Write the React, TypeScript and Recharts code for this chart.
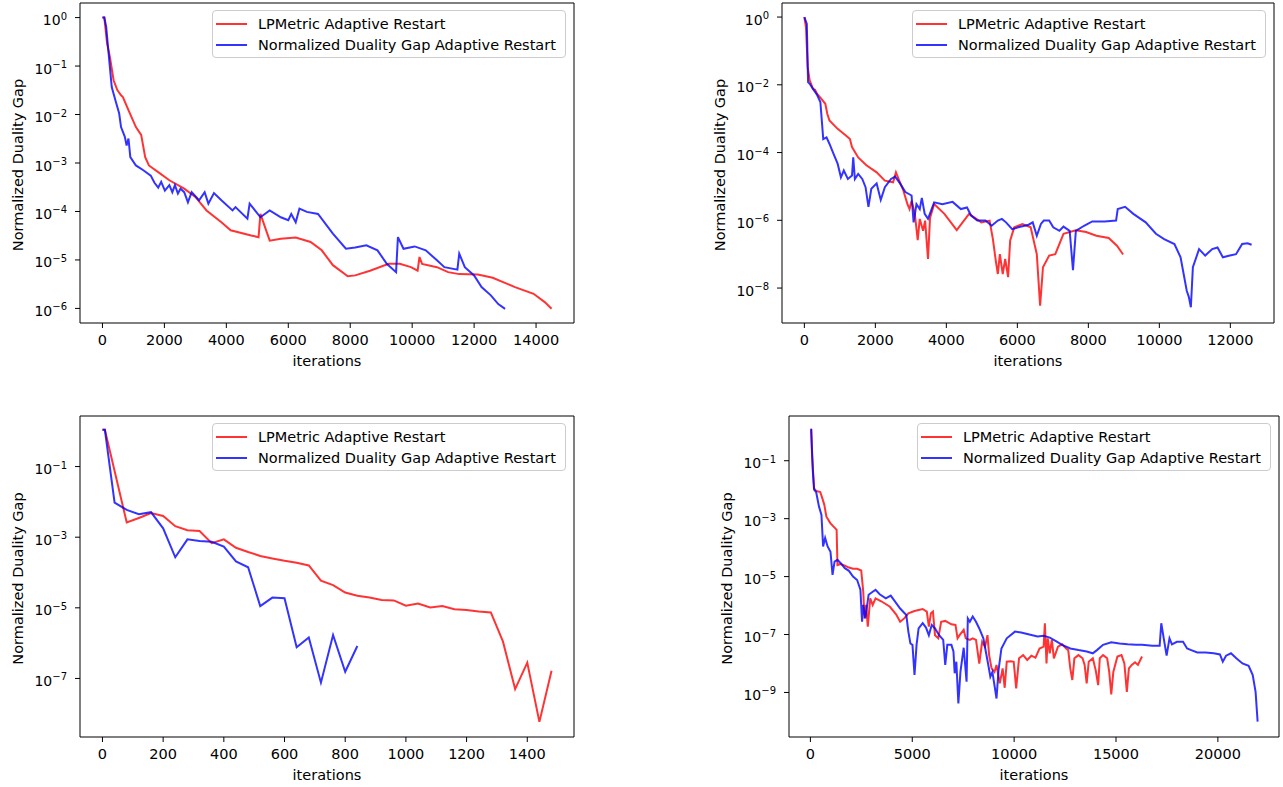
import { LineChart, Line, XAxis, YAxis, Legend } from "recharts";

const FONT = "DejaVu Sans";
const RED_NAME = "LPMetric Adaptive Restart";
const BLUE_NAME = "Normalized Duality Gap Adaptive Restart";

// ---- panel 1 (top left) ----
const p1RedIter = [0, 60, 150, 240, 360, 480, 600, 660, 840, 1080, 1250, 1380, 1500, 1800, 2160, 2640, 3000, 3360, 3840, 4140, 4800, 5040, 5100, 5400, 5760, 6240, 6720, 7080, 7440, 7920, 8160, 8640, 9240, 9600, 9960, 10176, 10236, 10320, 10800, 11160, 11520, 12120, 12600, 13320, 13920, 14280, 14500];
const p1RedGap = [1, 1, 2.9e-1, 1.55e-1, 5.1e-2, 3.2e-2, 2.5e-2, 2.3e-2, 1.23e-2, 5.5e-3, 3.8e-3, 1.32e-3, 8.9e-4, 6.5e-4, 4.4e-4, 2.95e-4, 2.0e-4, 1.05e-4, 6.0e-5, 4.1e-5, 3.2e-5, 2.95e-5, 8.9e-5, 2.5e-5, 2.75e-5, 2.9e-5, 2.35e-5, 1.58e-5, 7.8e-6, 4.6e-6, 4.8e-6, 6.0e-6, 8.3e-6, 8.3e-6, 7.1e-6, 6.0e-6, 1.15e-5, 8.3e-6, 7.1e-6, 5.6e-6, 5.1e-6, 5.0e-6, 4.3e-6, 2.75e-6, 2.0e-6, 1.35e-6, 9.8e-7];
const p1BlueIter = [0, 60, 120, 180, 300, 420, 540, 600, 720, 780, 840, 900, 1080, 1320, 1560, 1680, 1800, 1896, 2016, 2160, 2256, 2340, 2436, 2520, 2640, 2760, 2880, 3120, 3300, 3420, 3600, 3840, 4200, 4296, 4680, 4752, 5100, 5400, 5760, 6000, 6096, 6240, 6360, 6600, 6960, 7440, 7860, 8160, 8520, 8880, 9180, 9480, 9540, 9720, 10080, 10440, 10800, 11040, 11460, 11520, 11700, 12000, 12240, 12540, 12780, 13000];
const p1BlueGap = [1, 1, 6.5e-1, 2.45e-1, 3.7e-2, 1.95e-2, 1.05e-2, 5.5e-3, 3.5e-3, 2.3e-3, 3.2e-3, 1.32e-3, 8.9e-4, 7.1e-4, 5.5e-4, 3.9e-4, 3.1e-4, 4.1e-4, 2.7e-4, 3.5e-4, 2.5e-4, 3.5e-4, 2.35e-4, 2.95e-4, 2.5e-4, 1.55e-4, 2.5e-4, 1.7e-4, 2.5e-4, 1.45e-4, 2.4e-4, 1.7e-4, 1.05e-4, 1.23e-4, 7.1e-5, 1.45e-4, 7.6e-5, 1.05e-4, 7.6e-5, 6.6e-5, 8.9e-5, 6.0e-5, 1.15e-4, 9.8e-5, 8.9e-5, 3.5e-5, 1.7e-5, 1.8e-5, 2.0e-5, 1.58e-5, 8.3e-6, 5.6e-6, 2.95e-5, 1.7e-5, 1.9e-5, 1.58e-5, 9.8e-6, 7.1e-6, 6.3e-6, 1.35e-5, 7.1e-6, 4.8e-6, 2.75e-6, 1.86e-6, 1.23e-6, 9.8e-7];
const p1XTicks = [0, 2000, 4000, 6000, 8000, 10000, 12000, 14000];
const p1YTicks = [1, 1e-1, 1e-2, 1e-3, 1e-4, 1e-5, 1e-6];

// ---- panel 2 (top right) ----
const p2RedIter = [0, 46, 93, 150, 243, 300, 360, 474, 590, 648, 706, 937, 1169, 1284, 1342, 1516, 1747, 2036, 2268, 2499, 2580, 2673, 2788, 2904, 2962, 3020, 3112, 3193, 3251, 3344, 3402, 3483, 3540, 3656, 3945, 4292, 4640, 4987, 5218, 5311, 5392, 5450, 5507, 5588, 5658, 5739, 5797, 5912, 6143, 6375, 6548, 6641, 6722, 6896, 7069, 7300, 7648, 7937, 8226, 8573, 8805, 8979];
const p2RedGap = [1, 5.0e-1, 3.3e-2, 1.35e-2, 7.6e-3, 7.1e-3, 5.4e-3, 3.9e-3, 2.75e-3, 1.38e-3, 8.9e-4, 5.0e-4, 3.2e-4, 2.5e-4, 1.45e-4, 7.2e-5, 4.2e-5, 2.6e-5, 1.48e-5, 1.32e-5, 2.6e-5, 1.48e-5, 7.6e-6, 3.0e-6, 2.15e-6, 3.8e-6, 1.55e-6, 2.6e-7, 1.1e-6, 4.9e-7, 9.8e-7, 7.2e-8, 1.17e-6, 3.0e-6, 1.55e-6, 5.1e-7, 1.55e-6, 8.7e-7, 9.8e-7, 2.8e-7, 6.5e-8, 2.6e-8, 1.0e-7, 2.6e-8, 7.2e-8, 2.1e-8, 2.5e-7, 6.2e-7, 7.8e-7, 6.2e-7, 1.0e-7, 3.0e-9, 4.1e-8, 9.1e-8, 1.0e-7, 4.0e-7, 5.1e-7, 4.5e-7, 3.5e-7, 3.0e-7, 1.78e-7, 9.8e-8];
const p2BlueIter = [0, 69, 104, 150, 243, 360, 451, 532, 624, 706, 822, 937, 1030, 1111, 1226, 1342, 1377, 1423, 1516, 1631, 1724, 1805, 1886, 2036, 2152, 2268, 2441, 2557, 2695, 2846, 3020, 3077, 3158, 3251, 3309, 3390, 3483, 3656, 3887, 4176, 4408, 4582, 4697, 4871, 5102, 5276, 5450, 5565, 5681, 5854, 6028, 6317, 6433, 6548, 6664, 6745, 6896, 7011, 7185, 7300, 7474, 7567, 7648, 7879, 8110, 8457, 8781, 8828, 9036, 9268, 9615, 9904, 10135, 10425, 10598, 10772, 10830, 10888, 10945, 11119, 11292, 11489, 11639, 11790, 11986, 12160, 12333, 12484, 12600];
const p2BlueGap = [1, 6.3e-1, 1.2e-2, 1.07e-2, 7.6e-3, 5.0e-3, 3.1e-3, 2.5e-4, 2.8e-4, 1.82e-4, 9.1e-5, 4.7e-5, 1.86e-5, 2.95e-5, 1.66e-5, 2.1e-5, 7.2e-5, 1.66e-5, 2.35e-5, 1.66e-5, 9.5e-6, 2.5e-6, 8.5e-6, 1.23e-5, 4.0e-6, 9.5e-6, 1.66e-5, 1.95e-5, 1.23e-5, 6.8e-6, 5.4e-6, 8.7e-7, 3.0e-6, 2.15e-6, 4.6e-6, 1.55e-6, 1.1e-6, 3.4e-6, 3.0e-6, 3.5e-6, 2.15e-6, 2.4e-6, 1.38e-6, 9.8e-7, 9.8e-7, 6.9e-7, 9.8e-7, 1.1e-6, 8.7e-7, 5.5e-7, 6.2e-7, 7.4e-7, 8.7e-7, 3.5e-7, 7.8e-7, 9.8e-7, 9.8e-7, 6.2e-7, 4.9e-7, 6.5e-7, 4.9e-7, 3.4e-8, 4.9e-7, 6.9e-7, 9.3e-7, 9.3e-7, 9.8e-7, 2.15e-6, 2.5e-6, 1.55e-6, 8.7e-7, 4.0e-7, 2.8e-7, 2.0e-7, 8.1e-8, 8.3e-9, 5.5e-9, 2.7e-9, 4.1e-8, 1.41e-7, 9.1e-8, 1.41e-7, 1.58e-7, 8.1e-8, 9.1e-8, 1.0e-7, 2.0e-7, 2.1e-7, 1.9e-7];
const p2XTicks = [0, 2000, 4000, 6000, 8000, 10000, 12000];
const p2YTicks = [1, 1e-2, 1e-4, 1e-6, 1e-8];

// ---- panel 3 (bottom left) ----
const p3RedIter = [0, 8, 80, 120, 160, 200, 240, 280, 320, 360, 400, 440, 480, 520, 560, 600, 640, 680, 720, 760, 800, 840, 880, 920, 960, 1000, 1040, 1080, 1120, 1160, 1200, 1240, 1280, 1320, 1360, 1400, 1440, 1480];
const p3RedGap = [1.1, 1.1, 2.6e-3, 3.5e-3, 4.8e-3, 4.0e-3, 2.05e-3, 1.58e-3, 1.5e-3, 6.8e-4, 8.7e-4, 5.0e-4, 3.8e-4, 2.95e-4, 2.5e-4, 2.15e-4, 1.9e-4, 1.58e-4, 5.9e-5, 4.4e-5, 2.7e-5, 2.2e-5, 1.95e-5, 1.66e-5, 1.62e-5, 1.15e-5, 1.32e-5, 1.02e-5, 1.12e-5, 9.1e-6, 8.7e-6, 7.9e-6, 7.4e-6, 1.1e-6, 5.0e-8, 2.8e-7, 5.9e-9, 1.66e-7];
const p3BlueIter = [0, 8, 40, 80, 120, 160, 200, 240, 280, 320, 360, 400, 440, 480, 520, 560, 600, 640, 680, 720, 760, 800, 840];
const p3BlueGap = [1.1, 1.1, 9.5e-3, 5.9e-3, 4.5e-3, 5.1e-3, 1.78e-3, 2.7e-4, 8.7e-4, 7.8e-4, 7.4e-4, 5.4e-4, 2.05e-4, 1.41e-4, 1.12e-5, 1.95e-5, 1.86e-5, 7.6e-7, 1.45e-6, 7.6e-8, 1.7e-6, 1.55e-7, 8.3e-7];
const p3XTicks = [0, 200, 400, 600, 800, 1000, 1200, 1400];
const p3YTicks = [1e-1, 1e-3, 1e-5, 1e-7];

// ---- panel 4 (bottom right) ----
const p4RedIter = [0, 40, 80, 181, 282, 483, 583, 684, 785, 986, 1187, 1288, 1328, 1489, 1690, 1891, 2093, 2294, 2495, 2595, 2656, 2736, 2817, 2938, 3058, 3199, 3501, 3903, 4205, 4406, 4607, 4808, 5110, 5512, 5714, 5814, 5915, 6015, 6116, 6277, 6418, 6619, 6921, 7122, 7223, 7323, 7525, 7625, 7826, 7967, 8128, 8289, 8430, 8571, 8692, 8772, 8893, 9034, 9135, 9296, 9436, 9537, 9637, 9838, 9979, 10100, 10241, 10442, 10643, 10845, 11046, 11247, 11448, 11508, 11589, 11649, 11750, 11850, 11951, 12152, 12353, 12554, 12655, 12756, 12856, 12957, 13158, 13359, 13460, 13561, 13661, 13862, 14003, 14124, 14204, 14365, 14566, 14667, 14767, 14868, 15069, 15270, 15411, 15532, 15632, 15773, 15934, 16075, 16277];
const p4RedGap = [1.17, 1.17, 1.62e-1, 1.12e-2, 9.1e-3, 8.3e-3, 5.1e-3, 3.0e-3, 1.17e-3, 6.9e-4, 4.9e-4, 4.1e-4, 2.5e-5, 2.7e-5, 2.4e-5, 2.05e-5, 1.86e-5, 1.86e-5, 1.62e-5, 3.0e-6, 3.6e-7, 1.05e-6, 1.86e-7, 1.78e-6, 1.05e-6, 1.78e-6, 1.38e-6, 9.1e-7, 5.0e-7, 2.75e-7, 3.6e-7, 5.4e-7, 6.5e-7, 7.6e-7, 6.2e-7, 1.86e-7, 5.4e-7, 6.2e-7, 9.5e-8, 7.4e-8, 2.75e-7, 2.95e-7, 2.25e-7, 2.15e-7, 7.4e-8, 9.5e-8, 1.45e-7, 7.4e-8, 6.5e-8, 7.4e-8, 6.5e-8, 1.0e-8, 5.6e-8, 3.8e-8, 9.5e-8, 1.95e-8, 6.8e-9, 5.1e-9, 8.9e-9, 2.05e-9, 6.8e-9, 1.45e-9, 1.15e-8, 1.2e-8, 1.15e-8, 1.38e-9, 1.51e-8, 1.95e-8, 1.32e-8, 1.86e-8, 1.58e-8, 3.3e-8, 3.8e-8, 2.45e-7, 1.0e-8, 7.4e-8, 2.25e-8, 6.5e-8, 1.51e-8, 3.8e-8, 4.6e-8, 3.3e-8, 2.9e-8, 6.8e-9, 2.7e-9, 1.51e-8, 1.95e-8, 1.51e-8, 8.9e-9, 2.05e-9, 1.15e-8, 1.51e-8, 5.9e-9, 1.78e-9, 1.51e-8, 1.95e-8, 1.51e-8, 5.1e-9, 8.5e-10, 5.1e-9, 1.74e-8, 1.95e-8, 1.0e-8, 1.05e-9, 6.8e-9, 8.9e-9, 1.1e-8, 8.9e-9, 1.74e-8];
const p4BlueIter = [0, 40, 121, 181, 282, 423, 543, 624, 724, 845, 986, 1087, 1187, 1328, 1489, 1690, 1891, 2093, 2294, 2455, 2535, 2595, 2696, 2857, 3058, 3199, 3400, 3702, 3943, 4104, 4406, 4708, 4808, 4909, 5010, 5110, 5211, 5311, 5512, 5674, 5814, 5955, 6116, 6318, 6519, 6619, 6720, 6921, 7022, 7082, 7163, 7263, 7364, 7525, 7666, 7726, 7826, 7967, 8128, 8289, 8490, 8732, 8833, 8933, 9034, 9135, 9235, 9376, 9637, 10040, 10342, 10744, 11146, 11448, 11750, 12052, 12353, 12756, 13158, 13561, 13862, 14064, 14365, 14767, 15170, 15572, 15974, 16277, 16780, 17142, 17222, 17343, 17484, 17625, 17746, 17987, 18289, 18490, 18691, 18993, 19395, 19798, 20100, 20241, 20402, 20643, 20905, 21207, 21509, 21710, 21851, 21951];
const p4BlueGap = [1.17, 1.17, 4.3e-2, 1.0e-2, 8.3e-3, 2.6e-3, 1.35e-3, 1.1e-4, 2.15e-4, 1.1e-4, 7.2e-5, 1.15e-5, 3.3e-5, 3.8e-5, 2.9e-5, 1.95e-5, 1.58e-5, 1.0e-5, 7.6e-6, 3.5e-6, 2.75e-7, 1.05e-6, 3.6e-7, 2.35e-6, 3.0e-6, 3.5e-6, 2.45e-6, 1.78e-6, 2.2e-6, 1.55e-6, 7.9e-7, 4.7e-7, 1.26e-7, 4.9e-8, 4.4e-8, 4.0e-9, 4.4e-8, 1.62e-7, 2.45e-7, 1.74e-7, 9.5e-8, 2.15e-7, 1.62e-7, 9.5e-8, 6.5e-8, 8.9e-9, 4.4e-8, 4.4e-8, 2.6e-8, 4.6e-9, 1.15e-8, 4.2e-10, 5.1e-9, 3.5e-8, 2.35e-9, 3.6e-7, 2.75e-7, 4.2e-7, 2.75e-7, 1.62e-7, 7.4e-8, 8.9e-9, 3.5e-9, 5.1e-9, 1.78e-9, 6.2e-10, 5.9e-9, 3.3e-8, 7.4e-8, 1.26e-7, 1.17e-7, 1.0e-7, 8.5e-8, 9.1e-8, 7.8e-8, 5.9e-8, 4.4e-8, 3.3e-8, 2.9e-8, 2.6e-8, 2.25e-8, 2.9e-8, 4.4e-8, 5.4e-8, 4.9e-8, 4.6e-8, 4.4e-8, 4.4e-8, 4.1e-8, 4.1e-8, 2.45e-7, 7.4e-8, 1.86e-8, 7.4e-8, 4.6e-8, 5.6e-8, 5.6e-8, 3.3e-8, 2.9e-8, 2.4e-8, 2.4e-8, 2.25e-8, 2.05e-8, 1.15e-8, 1.86e-8, 2.25e-8, 1.51e-8, 1.0e-8, 8.3e-9, 4.0e-9, 1.05e-9, 9.8e-11];
const p4XTicks = [0, 5000, 10000, 15000, 20000];
const p4YTicks = [1e-1, 1e-3, 1e-5, 1e-7, 1e-9];

type Pt = { x: number; y: number };
const pts = (iters: number[], gaps: number[]): Pt[] => iters.map((x, i) => ({ x, y: gaps[i] }));

// minor log ticks (2..9 x 10^e) for the first panel
const minorLogTicks = (lo: number, hi: number) => {
  const out: number[] = [];
  for (let e = lo; e <= hi; e++) for (let m = 2; m <= 9; m++) out.push(m * Math.pow(10, e));
  return out;
};

const PowTick = (props: any) => {
  const { x, y, payload } = props;
  const e = Math.round(Math.log10(payload.value));
  return (
    <text x={x} y={y + 7.5} textAnchor="end" fontFamily={FONT} fontSize={14} fill="#000">
      10
      <tspan dy={-5.5} fontSize={10}>
        {e < 0 ? `\u2212${-e}` : `${e}`}
      </tspan>
    </text>
  );
};

const YLabel = (props: any) => {
  const vb = props.viewBox;
  const cx = vb.x + vb.width - 62;
  const cy = vb.y + vb.height / 2 + 2;
  return (
    <text x={cx} y={cy} transform={`rotate(-90 ${cx} ${cy})`} textAnchor="middle" dominantBaseline="central" fontFamily={FONT} fontSize={14.5} fill="#000">
      Normalized Duality Gap
    </text>
  );
};

const LegendBox = (props: any) => (
  <div
    style={{
      boxSizing: "border-box",
      width: 354,
      height: 48,
      border: "1px solid #cccccc",
      borderRadius: 4,
      background: "rgba(255,255,255,0.8)",
      paddingTop: 2,
    }}
  >
    {(props.payload || []).map((e: any) => (
      <div key={e.value} style={{ display: "flex", alignItems: "center", height: 21.6 }}>
        <svg width={45} height={10} style={{ display: "block" }}>
          <line x1={3} x2={34} y1={5} y2={5} stroke={e.color} strokeOpacity={0.8} strokeWidth={2} />
        </svg>
        <span style={{ fontFamily: FONT, fontSize: 14.5, color: "#000", whiteSpace: "nowrap", lineHeight: 1 }}>{e.value}</span>
      </div>
    ))}
  </div>
);

type PanelProps = {
  left: number;
  top: number;
  height: number;
  yAxisWidth: number;
  xDomain: [number, number];
  xTicks: number[];
  yDomain: [number, number];
  yTicks: number[];
  minor?: number[];
  red: Pt[];
  blue: Pt[];
};

const W = 580;
const MARGIN = { top: 2, right: 5, bottom: 5, left: 0 };

const Panel = ({ left, top, height, yAxisWidth, xDomain, xTicks, yDomain, yTicks, minor, red, blue }: PanelProps) => (
  <div style={{ position: "absolute", left, top }}>
    <LineChart width={W} height={height} margin={MARGIN}>
      <XAxis
        xAxisId="b"
        type="number"
        dataKey="x"
        domain={xDomain}
        ticks={xTicks}
        allowDataOverflow
        interval={0}
        height={44}
        tickSize={5}
        tickMargin={7}
        axisLine={{ stroke: "#000" }}
        tickLine={{ stroke: "#000" }}
        tick={{ fill: "#000", fontSize: 14.5, fontFamily: FONT }}
        label={{ value: "iterations", position: "insideBottom", offset: 1, fill: "#000", fontSize: 14.5, fontFamily: FONT }}
      />
      <XAxis xAxisId="t" orientation="top" type="number" domain={[0, 1]} height={1} tick={false} tickLine={false} axisLine={{ stroke: "#000" }} />
      {minor && (
        <YAxis
          yAxisId="m"
          type="number"
          scale="log"
          domain={yDomain}
          ticks={minor}
          allowDataOverflow
          interval={0}
          mirror
          width={1}
          tickSize={-2.5}
          tick={false}
          axisLine={false}
          tickLine={{ stroke: "#000" }}
        />
      )}
      <YAxis
        yAxisId="g"
        type="number"
        scale="log"
        domain={yDomain}
        ticks={yTicks}
        allowDataOverflow
        interval={0}
        width={yAxisWidth}
        tickSize={5}
        tickMargin={8}
        axisLine={{ stroke: "#000" }}
        tickLine={{ stroke: "#000" }}
        tick={PowTick}
        label={YLabel}
      />
      <YAxis yAxisId="r" orientation="right" type="number" domain={[0, 1]} width={1} tick={false} tickLine={false} axisLine={{ stroke: "#000" }} />
      <Legend
        layout="vertical"
        align="center"
        verticalAlign="middle"
        content={LegendBox}
        wrapperStyle={{ left: W - MARGIN.right - 1 - 8 - 354, top: MARGIN.top + 1 + 7, width: 354, height: 48 }}
      />
      <Line
        xAxisId="b"
        yAxisId="g"
        data={red}
        dataKey="y"
        name={RED_NAME}
        type="linear"
        stroke="#ff0000"
        strokeOpacity={0.8}
        strokeWidth={2}
        dot={false}
        isAnimationActive={false}
      />
      <Line
        xAxisId="b"
        yAxisId="g"
        data={blue}
        dataKey="y"
        name={BLUE_NAME}
        type="linear"
        stroke="#0000ff"
        strokeOpacity={0.8}
        strokeWidth={2}
        dot={false}
        isAnimationActive={false}
      />
    </LineChart>
  </div>
);

export default function App() {
  return (
    <div style={{ position: "absolute", left: 0, top: 0, width: 1283, height: 787, background: "#fff" }}>
      <Panel
        left={0}
        top={0}
        height={372}
        yAxisWidth={80}
        xDomain={[-725, 15225]}
        xTicks={p1XTicks}
        yDomain={[5e-7, 2]}
        yTicks={p1YTicks}
        minor={minorLogTicks(-7, 0)}
        red={pts(p1RedIter, p1RedGap)}
        blue={pts(p1BlueIter, p1BlueGap)}
      />
      <Panel
        left={700}
        top={0}
        height={372}
        yAxisWidth={82}
        xDomain={[-630, 13230]}
        xTicks={p2XTicks}
        yDomain={[9.3e-10, 2.6]}
        yTicks={p2YTicks}
        red={pts(p2RedIter, p2RedGap)}
        blue={pts(p2BlueIter, p2BlueGap)}
      />
      <Panel
        left={0}
        top={413}
        height={373}
        yAxisWidth={80}
        xDomain={[-74, 1554]}
        xTicks={p3XTicks}
        yDomain={[2.2e-9, 2.7]}
        yTicks={p3YTicks}
        red={pts(p3RedIter, p3RedGap)}
        blue={pts(p3BlueIter, p3BlueGap)}
      />
      <Panel
        left={705}
        top={413}
        height={373}
        yAxisWidth={84}
        xDomain={[-1050, 23000]}
        xTicks={p4XTicks}
        yDomain={[2.9e-11, 3.5]}
        yTicks={p4YTicks}
        red={pts(p4RedIter, p4RedGap)}
        blue={pts(p4BlueIter, p4BlueGap)}
      />
    </div>
  );
}
